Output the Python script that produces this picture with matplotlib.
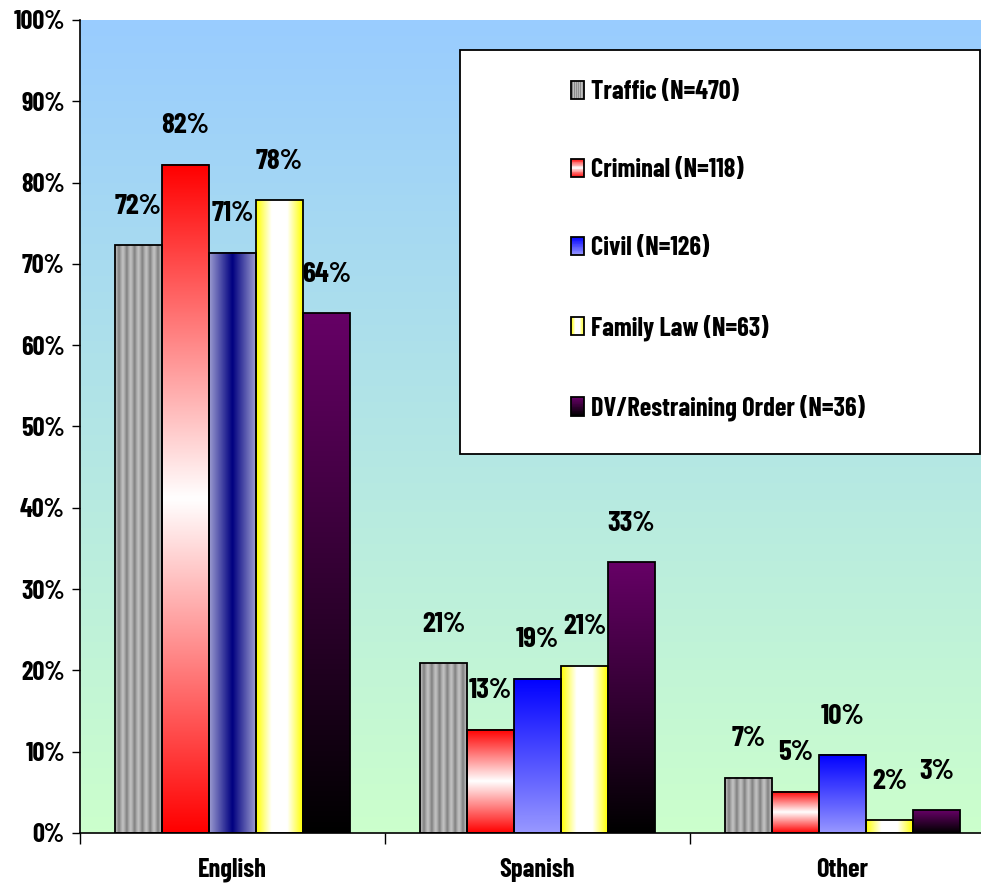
import numpy as np
import matplotlib.pyplot as plt
from matplotlib.colors import to_rgb
from matplotlib.patches import Patch, Rectangle
from matplotlib.legend_handler import HandlerBase

plt.rcParams['font.family'] = ['Barlow Condensed', 'DejaVu Sans']
plt.rcParams['font.weight'] = 'bold'

categories = ['English', 'Spanish', 'Other']
series = ['Traffic (N=470)', 'Criminal (N=118)', 'Civil (N=126)',
          'Family Law (N=63)', 'DV/Restraining Order (N=36)']
traffic = [72.3, 20.9, 6.8]
criminal = [82.2, 12.7, 5.1]
civil = [71.4, 19.0, 9.6]
family_law = [77.8, 20.6, 1.6]
dv_order = [63.9, 33.3, 2.8]
y_ticks = list(range(0, 101, 10))

values = [traffic, criminal, civil, family_law, dv_order]

# fill for each bar: direction of the ramp and its colours
# ('x' = left to right, 'y' = bottom to top)
stripes = ['#c4c4c4', '#a8a8a8', '#7f7f7f', '#a8a8a8'] * 6 + ['#c4c4c4']
civil_v = ('y', ['#9999ff', '#0000ff'])
fills = [
    [('x', stripes)] * 3,
    [('y', ['#ff0000', '#ffffff', '#ff0000'])] * 3,
    [('x', ['#9c9cd0', '#000080', '#9c9cd0']), civil_v, civil_v],
    [('x', ['#ffff00', '#ffffff', '#ffffff', '#ffff00'])] * 3,
    [('y', ['#000000', '#660066'])] * 3,
]


def ramp(colors, n=200):
    rgb = np.array([to_rgb(c) for c in colors])
    pos = np.linspace(0, 1, len(colors))
    t = np.linspace(0, 1, n)
    return np.stack([np.interp(t, pos, rgb[:, k]) for k in range(3)], axis=-1)


def ramp_image(direction, colors):
    r = ramp(colors)
    return r[None, :, :] if direction == 'x' else r[:, None, :]


class RampHandler(HandlerBase):
    def __init__(self, direction, colors):
        super().__init__()
        self.direction = direction
        self.colors = colors

    def create_artists(self, legend, orig_handle, xdescent, ydescent,
                       width, height, fontsize, trans):
        x0, y0 = -xdescent, -ydescent
        n = 24
        cols = ramp(self.colors, n)
        arts = []
        for i, c in enumerate(cols):
            if self.direction == 'x':
                r = Rectangle((x0 + i * width / n, y0), width / n, height)
            else:
                r = Rectangle((x0, y0 + i * height / n), width, height / n)
            r.set_facecolor(c)
            r.set_edgecolor('none')
            r.set_transform(trans)
            arts.append(r)
        arts.append(Rectangle((x0, y0), width, height, facecolor='none',
                              edgecolor='black', lw=1.3, transform=trans))
        return arts


fig = plt.figure(figsize=(9.81, 8.84), dpi=100)
ax = fig.add_axes([80 / 981, 51 / 884, 915 / 981, 813 / 884])

# sky-to-mint background of the plot area
bg = ramp(['#ccffcc', '#99ccff'])[:, None, :]
ax.imshow(bg, extent=(0, 1, 0, 1), transform=ax.transAxes, origin='lower',
          aspect='auto', zorder=0)

x = np.arange(len(categories))
width = 0.154
for s, vals in enumerate(values):
    pos = x + (s - 2) * width
    bars = ax.bar(pos, vals, width, facecolor='none', edgecolor='black',
                  linewidth=1.3, zorder=3)
    for c, bar in enumerate(bars):
        direction, colors = fills[s][c]
        x0 = bar.get_x()
        ax.imshow(ramp_image(direction, colors),
                  extent=(x0, x0 + bar.get_width(), 0, bar.get_height()),
                  origin='lower', aspect='auto', interpolation='bilinear',
                  zorder=2)
        ax.annotate(f'{vals[c]:.0f}%', (bar.get_x() + bar.get_width() / 2, vals[c]),
                    xytext=(0, 28), textcoords='offset points',
                    ha='center', va='center', fontsize=21, fontweight='bold',
                    zorder=6)

ax.set_xlim(-0.5, 2.5)
ax.set_ylim(0, 100)
ax.set_yticks(y_ticks)
ax.set_yticklabels([f'{t}%' for t in y_ticks], fontsize=19, fontweight='bold')
ax.set_xticks([-0.5, 0.5, 1.5, 2.5])
ax.set_xticklabels([])
ax.set_xticks(x, minor=True)
ax.set_xticklabels(categories, minor=True, fontsize=19, fontweight='bold')
ax.tick_params(axis='x', which='major', length=8, width=1, direction='out')
ax.tick_params(axis='x', which='minor', length=0, pad=18)
ax.tick_params(axis='y', length=6, width=1, direction='out', pad=5)
for side in ('top', 'right'):
    ax.spines[side].set_visible(False)
for side in ('left', 'bottom'):
    ax.spines[side].set_linewidth(1.2)
    ax.spines[side].set_zorder(5)

# legend box and entries
ax.add_patch(Rectangle((460 / 981, 1 - 454 / 884), 520 / 981, 404 / 884,
                       transform=fig.transFigure, facecolor='white',
                       edgecolor='black', linewidth=1.3, zorder=7, clip_on=False))
handles = [Patch(label=name) for name in series]
handler_map = {h: RampHandler(*fills[s][1]) for s, h in enumerate(handles)}
leg = ax.legend(handles=handles, handler_map=handler_map, loc='upper left',
                bbox_to_anchor=(571 / 981, 1 - 80 / 884),
                bbox_transform=fig.transFigure, frameon=False,
                prop=dict(size=19, weight='bold'), handlelength=0.5,
                handleheight=0.7, handletextpad=0.25, labelspacing=2.05,
                borderpad=0, borderaxespad=0)
leg.set_zorder(8)

fig.savefig('out.png', dpi=100)
